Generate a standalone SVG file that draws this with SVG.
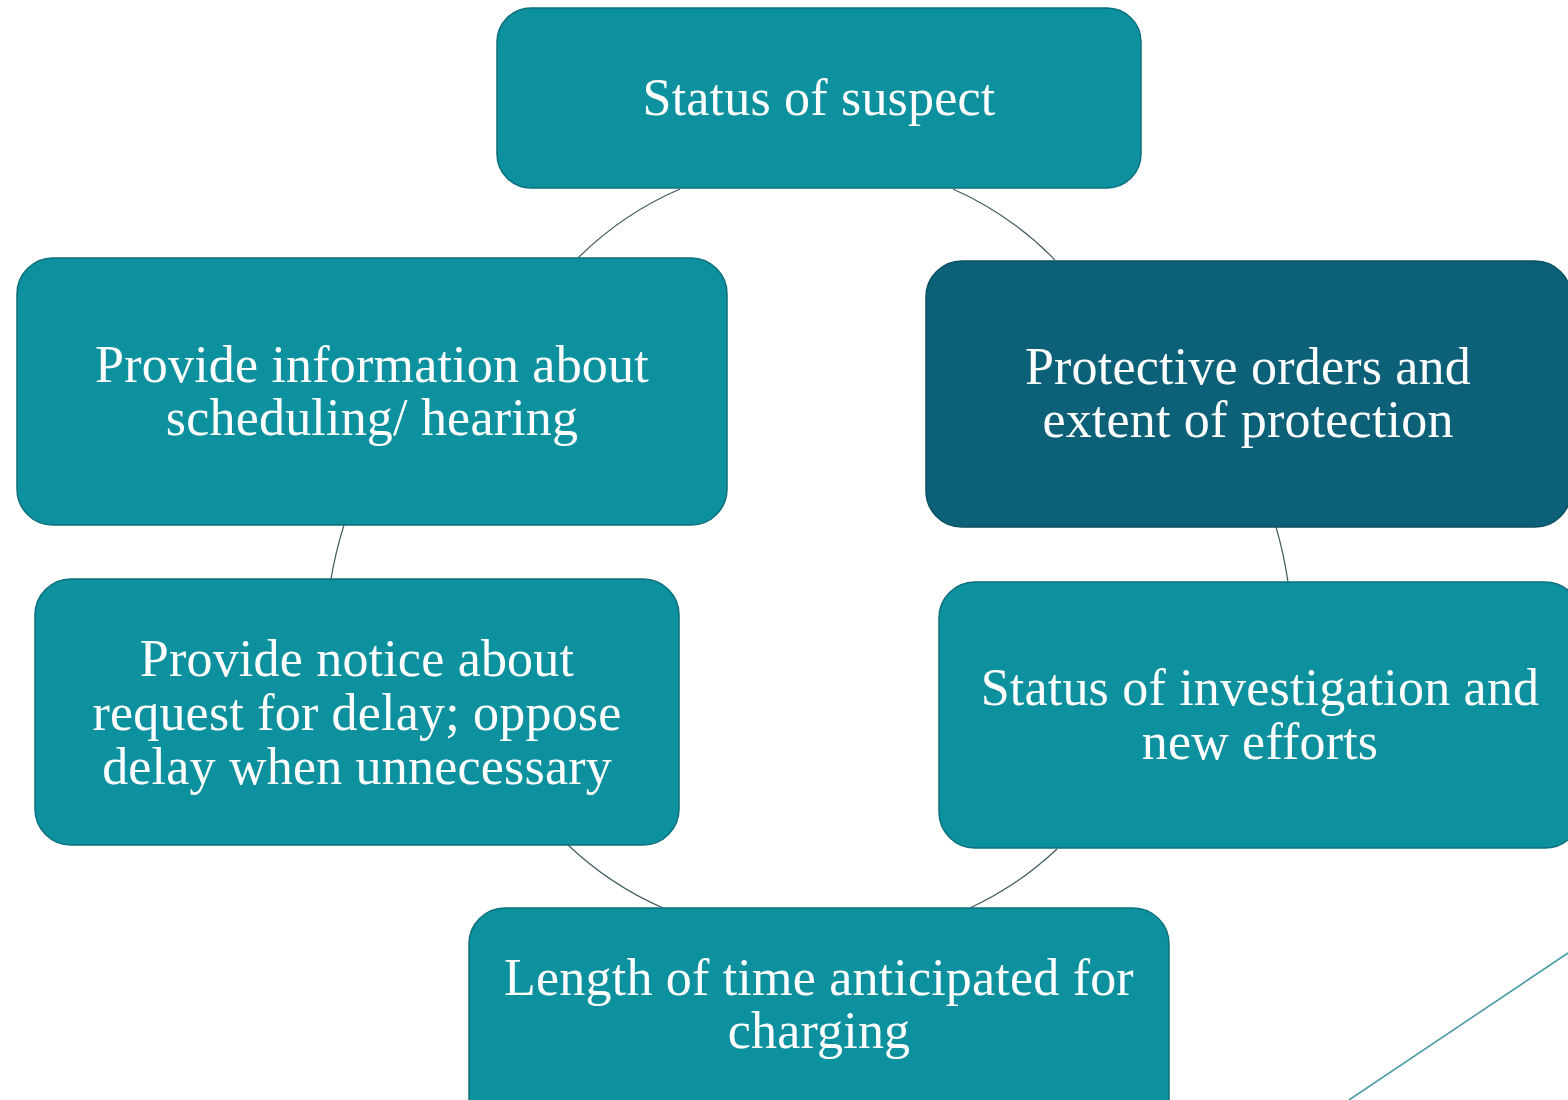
<svg xmlns="http://www.w3.org/2000/svg" width="1568" height="1100" viewBox="0 0 1568 1100">
<style>
.node{fill:#0e919e;stroke:#0b707b;stroke-width:1.5}
.dark{fill:#0c6077;stroke:#0a5062;stroke-width:1.5}
.lbl{font-family:"Liberation Serif","Times New Roman",serif;font-size:52px;letter-spacing:0.2px;fill:#ffffff;text-anchor:middle}
.conn{fill:none;stroke:#3f5c60;stroke-width:1.2}
</style>
<rect width="1568" height="1100" fill="#ffffff"/>
<g id="connectors">
<path class="conn" d="M680,189 A330,330 0 0 0 578,258"/>
<path class="conn" d="M953,189 A330,330 0 0 1 1055,260"/>
<path class="conn" d="M344,525 A400,400 0 0 0 331,579"/>
<path class="conn" d="M1276,527 A400,400 0 0 1 1288,582"/>
<path class="conn" d="M568,845 A330,330 0 0 0 663,908"/>
<path class="conn" d="M1057,849 A330,330 0 0 1 970,908"/>
</g>
<g id="n-top">
<rect class="node" x="497" y="8" width="644" height="180" rx="34"/>
<text class="lbl" x="819" y="115">Status of suspect</text>
</g>
<g id="n-left1">
<rect class="node" x="17" y="258" width="710" height="267" rx="36"/>
<text class="lbl" x="372" y="382">Provide information about</text>
<text class="lbl" x="372" y="435">scheduling/ hearing</text>
</g>
<g id="n-right1">
<rect class="dark" x="926" y="261" width="645" height="266" rx="36"/>
<text class="lbl" x="1248" y="384">Protective orders and</text>
<text class="lbl" x="1248" y="437">extent of protection</text>
</g>
<g id="n-left2">
<rect class="node" x="35" y="579" width="644" height="266" rx="36"/>
<text class="lbl" x="357" y="676">Provide notice about</text>
<text class="lbl" x="357" y="730">request for delay; oppose</text>
<text class="lbl" x="357" y="784">delay when unnecessary</text>
</g>
<g id="n-right2">
<rect class="node" x="939" y="582" width="642" height="266" rx="36"/>
<text class="lbl" x="1260" y="705">Status of investigation and</text>
<text class="lbl" x="1260" y="759">new efforts</text>
</g>
<g id="n-bottom">
<rect class="node" x="469" y="908" width="700" height="230" rx="36"/>
<text class="lbl" x="819" y="995">Length of time anticipated for</text>
<text class="lbl" x="819" y="1048">charging</text>
</g>
<line x1="1349" y1="1100" x2="1568" y2="953" stroke="#4b9aa6" stroke-width="1.6"/>
</svg>
